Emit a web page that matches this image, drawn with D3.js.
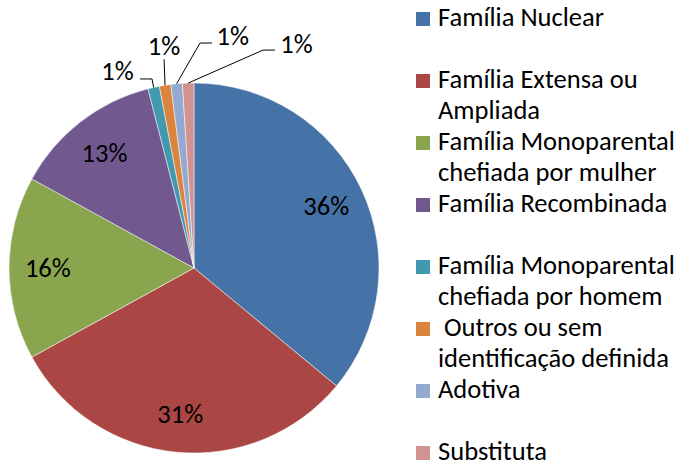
<!DOCTYPE html>
<html>
<head>
<meta charset="utf-8">
<script src="https://cdn.jsdelivr.net/npm/d3@7"></script>
<style>
  body { margin: 0; background: #fff; }
  text { font-family: Carlito, Lato, "Liberation Sans", sans-serif; fill: #000; white-space: pre; }
</style>
</head>
<body>
<div id="chart"></div>
<script>
// Data
const categories = [
  'Família Nuclear',
  'Família Extensa ou Ampliada',
  'Família Monoparental chefiada por mulher',
  'Família Recombinada',
  'Família Monoparental chefiada por homem',
  ' Outros ou sem identificação definida',
  'Adotiva',
  'Substituta'
];
const values = [36, 31, 16, 13, 1, 1, 1, 1];
const legendLines = [
  ['Família Nuclear'],
  ['Família Extensa ou', 'Ampliada'],
  ['Família Monoparental', 'chefiada por mulher'],
  ['Família Recombinada'],
  ['Família Monoparental', 'chefiada por homem'],
  [' Outros ou sem', 'identificação definida'],
  ['Adotiva'],
  ['Substituta']
];
const colors = ['#4572A7', '#AA4643', '#89A54E', '#71588F', '#4198AF', '#DB843D', '#93A9CF', '#D19392'];

// leader line layout for the small slices (offsets from the slice edge point)
const leaderLayout = {
  4: { elbow: [-1.6, -8.5], end: [-13.6, -8.5], label: [-20, -7.5], anchor: 'end' },
  5: { elbow: [-1, -26], end: [-1, -26], label: [-1, -30], anchor: 'middle' },
  6: { elbow: [23.4, -40.8], end: [35.4, -40.8], label: [40, -39], anchor: 'start' },
  7: { elbow: [74.8, -33], end: [86.8, -33], label: [92, -30], anchor: 'start' }
};

const width = 683, height = 467;
const cx = 194, cy = 268, r = 185;

const svg = d3.select('#chart').append('svg')
  .attr('width', width)
  .attr('height', height);

// fit font size so the legend width matches the original
const probe = svg.append('text').attr('font-size', 24).text('Família Monoparental');
const probeW = probe.node().getComputedTextLength();
probe.remove();
const fs = 24 * 237 / probeW;

const pie = d3.pie().sort(null).value(d => d)(values);
const arc = d3.arc().innerRadius(0).outerRadius(r);
const labelArc = d3.arc().innerRadius(r * 0.79).outerRadius(r * 0.79);

const g = svg.append('g').attr('transform', `translate(${cx},${cy})`);

g.selectAll('path.slice')
  .data(pie)
  .enter()
  .append('path')
    .attr('class', 'slice')
    .attr('d', arc)
    .attr('fill', (d, i) => colors[i])
    .attr('stroke', '#fff')
    .attr('stroke-width', 0.5);

// inside labels
g.selectAll('text.inside')
  .data(pie.filter(d => d.value > 5))
  .enter()
  .append('text')
    .attr('class', 'inside')
    .attr('transform', d => `translate(${labelArc.centroid(d)})`)
    .attr('text-anchor', 'middle')
    .attr('dy', '0.35em')
    .attr('font-size', fs)
    .text(d => d.value + '%');

// outside labels with leader lines
pie.forEach((d, i) => {
  const lay = leaderLayout[i];
  if (!lay) return;
  const mid = (d.startAngle + d.endAngle) / 2;
  const ex = r * Math.sin(mid), ey = -r * Math.cos(mid);
  g.append('path')
    .attr('d', d3.line()([
      [ex, ey],
      [ex + lay.elbow[0], ey + lay.elbow[1]],
      [ex + lay.end[0], ey + lay.end[1]]
    ]))
    .attr('fill', 'none')
    .attr('stroke', '#000')
    .attr('stroke-width', 1);
  g.append('text')
    .attr('x', ex + lay.label[0])
    .attr('y', ey + lay.label[1])
    .attr('text-anchor', lay.anchor)
    .attr('font-size', fs)
    .text(d.value + '%');
});

// Legend
const legend = svg.append('g');
const lx = 416, ly = 26, step = 62, lineH = 31, sq = 14;
legendLines.forEach((lines, i) => {
  const y = ly + i * step;
  legend.append('rect')
    .attr('x', lx)
    .attr('y', y - sq)
    .attr('width', sq)
    .attr('height', sq)
    .attr('fill', colors[i]);
  lines.forEach((t, j) => {
    legend.append('text')
      .attr('x', lx + 22)
      .attr('y', y + j * lineH)
      .attr('font-size', fs)
      .text(t);
  });
});
</script>
</body>
</html>
